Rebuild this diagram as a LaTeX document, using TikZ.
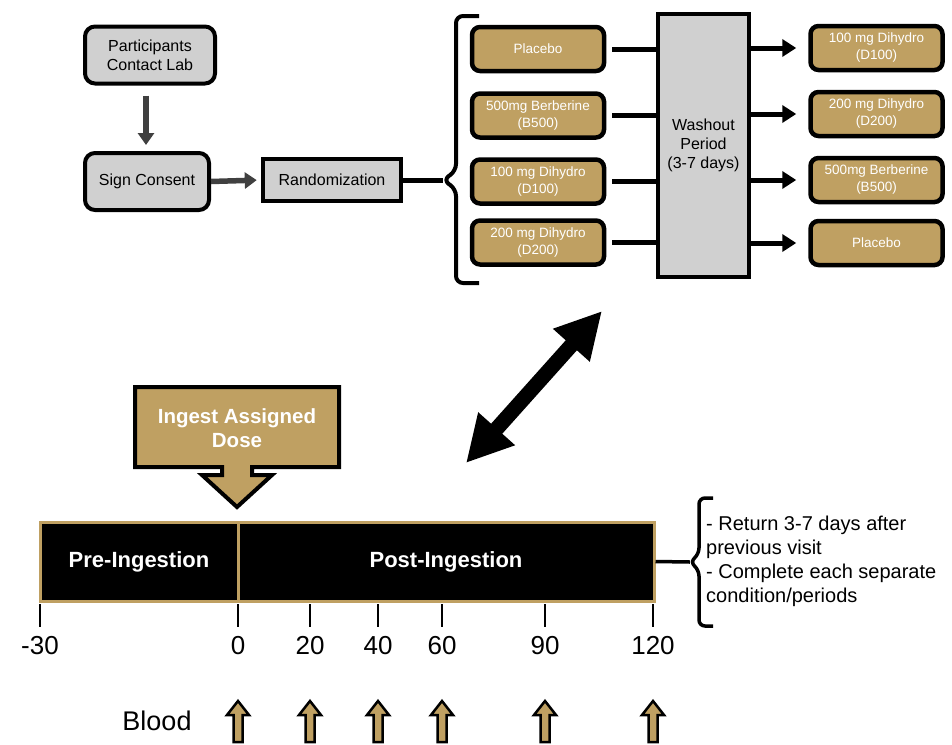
\documentclass[tikz,border=0pt]{standalone}
\usepackage{fontspec}
\setmainfont{Liberation Sans}
\usetikzlibrary{arrows.meta}
\definecolor{gold}{RGB}{191,160,98}
\definecolor{lgray}{RGB}{208,208,208}
\definecolor{dgray}{RGB}{64,64,64}
\begin{document}
\begin{tikzpicture}[x=1pt,y=-1pt,
  graybox/.style={draw=black, fill=lgray, line width=4pt, rounded corners=10pt, align=center,
    font=\fontsize{16}{19}\selectfont, inner sep=0pt},
  sqbox/.style={draw=black, fill=lgray, line width=4.5pt, align=center,
    font=\fontsize{16}{19}\selectfont, inner sep=0pt},
  goldbox/.style={draw=black, fill=gold, line width=4.5pt, rounded corners=8pt, align=center,
    text=white, font=\fontsize{13.5}{17}\selectfont, minimum width=132pt, minimum height=44pt, inner sep=0pt},
  grayarrow/.style={draw=dgray, line width=5.5pt, -{Triangle[length=12pt,width=16pt]}},
  thickline/.style={draw=black, line width=5pt},
  blackarrow/.style={draw=black, line width=5pt, -{Triangle[length=14pt,width=17pt]}},
  bracestyle/.style={draw=black, line width=4pt, rounded corners=7pt},
  barbox/.style={draw=gold, fill=black, line width=3pt, text=white, inner sep=0pt,
    font=\bfseries\fontsize{22}{26}\selectfont, minimum height=79pt},
  ticklbl/.style={font=\fontsize{26}{30}\selectfont, inner sep=0pt},
  bloodarrow/.style={draw=black, fill=gold, line width=2.5pt, line join=miter}
]
\useasboundingbox (0,0) rectangle (952,744);

% top-left flow
\node[graybox, minimum width=130pt, minimum height=57pt] (pcl) at (150,55) {Participants\\Contact Lab};
\node[graybox, minimum width=124pt, minimum height=57pt] (sc) at (147,181.5) {Sign Consent};
\node[sqbox, minimum width=138pt, minimum height=42pt] (rand) at (332,180) {Randomization};
\draw[grayarrow, shorten <=10pt, shorten >=6pt] (pcl.south -| 146,0) -- (sc.north -| 146,0);
\draw[grayarrow, shorten >=4pt] (sc.east) -- (rand.west);

% left brace
\coordinate (btip) at (443,180);
\draw[thickline] (rand.east) -- (btip);
\draw[bracestyle] (479,16) -- (456,16) -- (456,171) -- (btip) -- (456,189) -- (456,283) -- (479,283);

% left gold boxes
\node[goldbox] (l1) at (538,49) {Placebo};
\node[goldbox] (l2) at (538,115.5) {500mg Berberine\\(B500)};
\node[goldbox] (l3) at (538,181.5) {100 mg Dihydro\\(D100)};
\node[goldbox] (l4) at (538,242.5) {200 mg Dihydro\\(D200)};

% washout
\node[sqbox, minimum width=91pt, minimum height=263pt] (wash) at (703.5,145.5) {Washout\\Period\\(3-7 days)};

% right gold boxes
\node[goldbox] (r1) at (876.5,48) {100 mg Dihydro\\(D100)};
\node[goldbox] (r2) at (876.5,114) {200 mg Dihydro\\(D200)};
\node[goldbox] (r3) at (876.5,180) {500mg Berberine\\(B500)};
\node[goldbox] (r4) at (876.5,243) {Placebo};

\foreach \n in {l1,l2,l3,l4}{
  \draw[thickline, shorten <=6pt] (\n.east) -- (\n.east -| wash.west);
}
\foreach \n in {r1,r2,r3,r4}{
  \draw[blackarrow, shorten >=12pt] (wash.east |- \n.west) -- (\n.west);
}

% double arrow
\coordinate (da1) at (466,463);
\coordinate (da2) at (602,311);
\draw[line width=15pt, {Triangle[length=46pt,width=46pt]}-{Triangle[length=46pt,width=46pt]}] (da1) -- (da2);

% ingest callout
\draw[draw=black, fill=gold, line width=4pt, line join=miter]
  (135,387) -- (339,387) -- (339,467) -- (252,467) -- (252,475) -- (272,475) -- (237,507)
  -- (202,475) -- (222,475) -- (222,467) -- (135,467) -- cycle;
\node[text=white, align=center, font=\bfseries\fontsize{20.5}{24}\selectfont] (ingest) at (237,428) {Ingest Assigned\\Dose};

% timeline bar
\node[barbox, minimum width=198pt] (pre) at (139,561.5) {Pre-Ingestion};
\node[barbox, minimum width=416pt] (post) at (446,561.5) {Post-Ingestion};

% ticks and labels
\foreach \x/\l [count=\i] in {40/-30, 238/0, 310/20, 378/40, 442/60, 545/90, 653/120}{
  \draw[line width=2.2pt] (\x,604) -- (\x,627);
  \node[ticklbl] (tl\i) at (\x,646) {\l};
}

% right brace
\coordinate (rtip) at (690,562);
\draw[draw=black, line width=3.5pt] (post.east) -- (rtip);
\draw[bracestyle, line width=3.5pt, rounded corners=6pt] (713,498) -- (699,498) -- (699,554) -- (rtip) -- (699,570) -- (699,626) -- (713,626);
\node[anchor=west, align=left, inner sep=0pt, font=\fontsize{20}{24}\selectfont] (note) at (706,561)
  {- Return 3-7 days after\\previous visit\\- Complete each separate\\condition/periods};

% blood
\node[font=\fontsize{27}{30}\selectfont, inner sep=0pt] (blood) at (157,721) {Blood};
\foreach \x in {238,310,378,442,545,653}{
  \draw[bloodarrow] (\x,701) -- (\x+11,715) -- (\x+4.5,715) -- (\x+4.5,742) -- (\x-4.5,742)
    -- (\x-4.5,715) -- (\x-11,715) -- cycle;
}
\end{tikzpicture}
\end{document}
